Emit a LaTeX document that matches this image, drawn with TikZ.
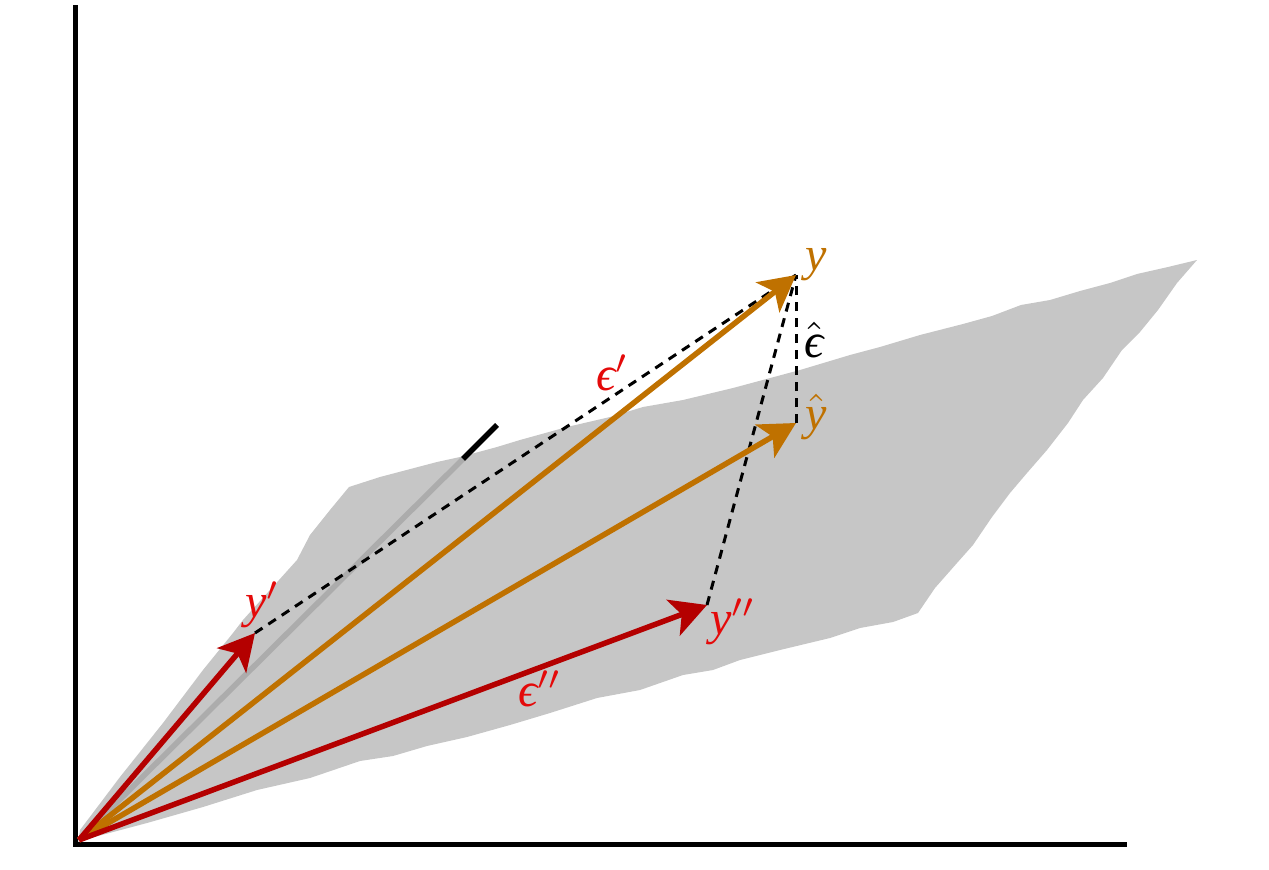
\documentclass[tikz,border=0pt]{standalone}
\usepackage{amsmath}
\usepackage{fontspec}
\newfontfamily\labf{Liberation Serif}
\usetikzlibrary{arrows.meta}
\definecolor{vorange}{RGB}{191,113,0}
\definecolor{vred}{RGB}{180,0,0}
\definecolor{lred}{RGB}{228,10,10}
\definecolor{planegray}{RGB}{198,198,198}
\definecolor{hidgray}{RGB}{172,172,172}
\newcommand{\ly}{\text{\labf\itshape y}}
\newcommand{\leps}{\text{\labf\itshape ϵ}}
\tikzset{
  axis/.style={line width=5.5pt,black,line join=miter},
  vec/.style={line width=5.5pt,-{Stealth[length=36pt,width=38pt,inset=9pt]}},
  resid/.style={line width=3pt,black,dash pattern=on 9pt off 7pt},
  lab/.style={scale=4.8,inner sep=0pt},
}
\begin{document}
\begin{tikzpicture}[x=1pt,y=-1pt]
\useasboundingbox (0,0) rectangle (1269,870);
% plane
\fill[planegray] (78,842) -- (80,830) -- (120,777) -- (163,723) -- (203,670) -- (233,633) -- (243,620) -- (270,590) -- (297,560) -- (310,535) -- (330,510) -- (349,487)
 -- (380,477) -- (437,462) -- (460,457) -- (497,447) -- (520,440) -- (567,427) -- (610,417) -- (643,407) -- (683,400) -- (733,388) -- (800,370) -- (850,355) -- (880,347) -- (920,335) -- (963,324) -- (992,316) -- (1021,305) -- (1050,300) -- (1080,291) -- (1110,283) -- (1137,274) -- (1168,267) -- (1197,260)
 -- (1177,283) -- (1158,310) -- (1140,332) -- (1122,350) -- (1103,378) -- (1083,400) -- (1068,423) -- (1047,450) -- (1027,473) -- (1010,493) -- (992,517) -- (973,545) -- (957,563) -- (935,588) -- (918,613)
 -- (893,622) -- (860,628) -- (830,638) -- (780,650) -- (740,660) -- (713,670) -- (683,675) -- (640,690) -- (597,698) -- (550,713) -- (510,725) -- (467,737) -- (427,746) -- (393,756) -- (360,761) -- (310,778) -- (257,790) -- (203,807) -- (147,823) -- (83,840) -- cycle;
% coordinates
\coordinate (O) at (79,840);
\coordinate (zin) at (463,459);
\coordinate (zend) at (497,425);
\coordinate (yp) at (255,633);
\coordinate (ypp) at (707,605);
\coordinate (yv) at (796,275);
\coordinate (yh) at (796,423);
\coordinate (ytop) at (75.5,5);
\coordinate (corner) at (75.5,844.5);
\coordinate (xend) at (1127,844.5);
% axes
\draw[axis] (ytop) -- (corner) -- (xend);
\draw[line width=5.5pt,hidgray] (O) -- (zin);
\draw[line width=5.5pt,black] (zin) -- (zend);
% residual lines
\draw[resid] (yp) -- (yv);
\draw[resid] (ypp) -- (yv);
\draw[resid] (yh) -- (yv);
% vectors
\draw[vec,vorange] (O) -- (yv);
\draw[vec,vorange] (O) -- (yh);
\draw[vec,vred] (O) -- (yp);
\draw[vec,vred] (O) -- (ypp);
% labels
\node[lab,text=vorange] (ly) at (816,265) {$\ly$};
\node[lab,text=vorange] (lyh) at (816,417) {$\hat{\ly}$};
\node[lab,text=black] (leh) at (814,340) {$\hat{\leps}$};
\node[lab,text=lred] (lep) at (613,373) {$\leps'$};
\node[lab,text=lred] (lepp) at (540,689) {$\leps''$};
\node[lab,text=lred] (lyp) at (263,605) {$\ly'$};
\node[lab,text=lred] (lypp) at (733,622) {$\ly''$};
\end{tikzpicture}
\end{document}
